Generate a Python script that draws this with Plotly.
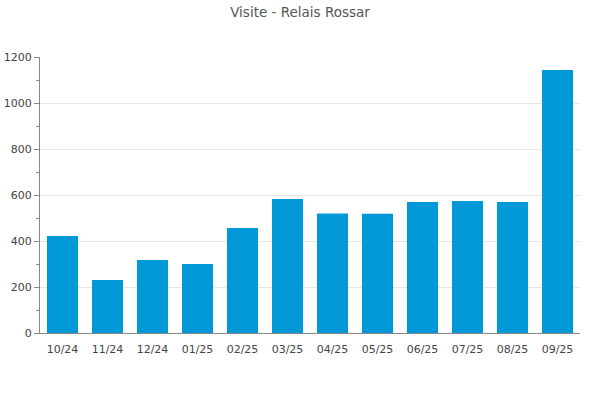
import plotly.graph_objects as go

months = ["10/24", "11/24", "12/24", "01/25", "02/25", "03/25",
          "04/25", "05/25", "06/25", "07/25", "08/25", "09/25"]
visits = [422, 230, 317, 300, 457, 583, 520, 518, 570, 574, 570, 1143]

fig = go.Figure(go.Bar(x=months, y=visits, marker_color="#0098d6",
                       marker_line_width=0))

fig.update_layout(
    width=600, height=400,
    margin=dict(l=40, r=20, t=57, b=67, autoexpand=False),
    paper_bgcolor="white", plot_bgcolor="white",
    title=dict(text="Visite - Relais Rossar", x=0.5, xanchor="center",
               xref="container", yref="container", y=0.97, yanchor="middle",
               automargin=False,
               font=dict(family="DejaVu Sans", size=13.5, color="#555555")),
    font=dict(family="DejaVu Sans", size=11, color="#444444"),
    bargap=0.31,
    showlegend=False,
)
fig.update_xaxes(showline=True, linecolor="#888888", linewidth=1, automargin=False,
                 ticks="", showgrid=False, ticklabelstandoff=6,
                 tickfont=dict(size=11, color="#444444"))
fig.update_yaxes(range=[0, 1200], dtick=200, showline=True, linecolor="#888888",
                 linewidth=1, ticks="outside", ticklen=5, tickcolor="#888888",
                 gridcolor="#e6e6e6", zeroline=False, automargin=False,
                 minor=dict(dtick=100, ticks="outside", ticklen=3,
                            tickcolor="#888888", showgrid=False),
                 tickfont=dict(size=11, color="#444444"))

fig.write_html("out.html", config={"displayModeBar": False},
               post_script="document.body.style.margin='0';document.body.style.overflow='hidden';")
